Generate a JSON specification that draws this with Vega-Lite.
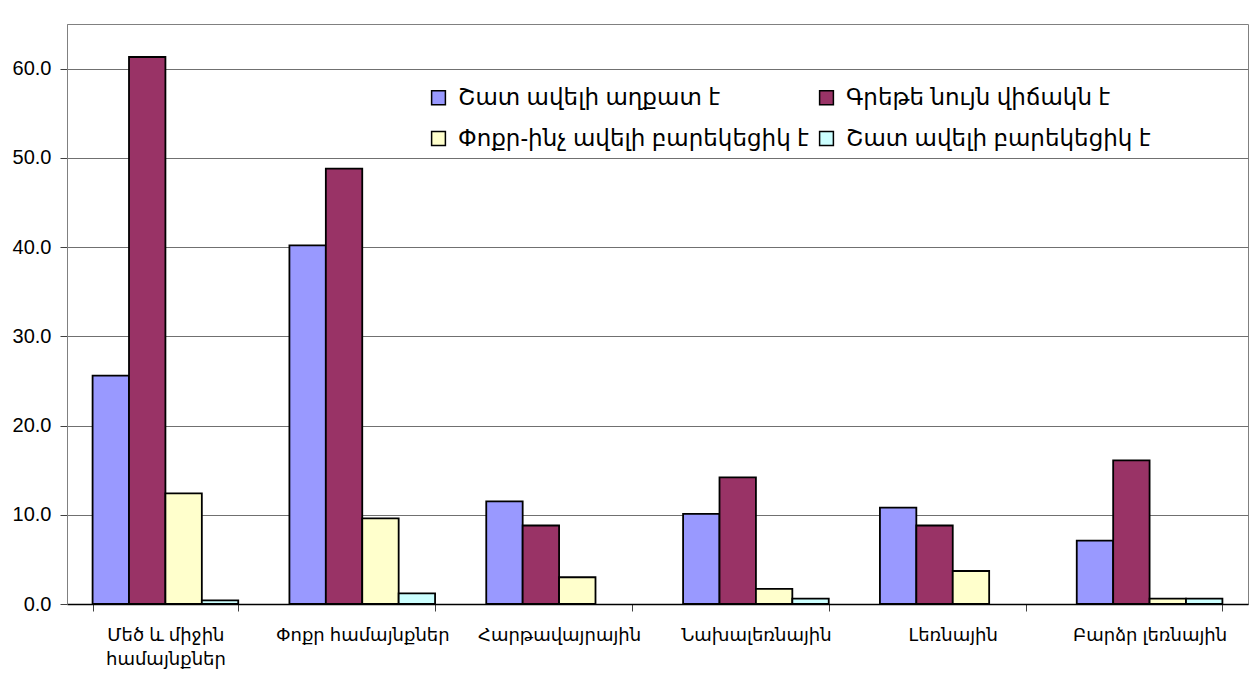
{
  "$schema": "https://vega.github.io/schema/vega-lite/v6.json",
  "width": 1181,
  "height": 580,
  "padding": {"left": 12, "top": 24, "right": 2, "bottom": 4},
  "background": "white",
  "config": {
    "font": "Liberation Sans, DejaVu Sans, sans-serif",
    "view": {"stroke": "#808080", "strokeWidth": 1}
  },
  "data": {
    "values": [
      {"cat": "Մեծ և միջին|համայնքներ", "s": "Շատ ավելի աղքատ է", "v": 25.6},
      {"cat": "Մեծ և միջին|համայնքներ", "s": "Գրեթե նույն վիճակն է", "v": 61.3},
      {"cat": "Մեծ և միջին|համայնքներ", "s": "Փոքր-ինչ ավելի բարեկեցիկ է", "v": 12.4},
      {"cat": "Մեծ և միջին|համայնքներ", "s": "Շատ ավելի բարեկեցիկ է", "v": 0.4},
      {"cat": "Փոքր համայնքներ", "s": "Շատ ավելի աղքատ է", "v": 40.2},
      {"cat": "Փոքր համայնքներ", "s": "Գրեթե նույն վիճակն է", "v": 48.8},
      {"cat": "Փոքր համայնքներ", "s": "Փոքր-ինչ ավելի բարեկեցիկ է", "v": 9.6},
      {"cat": "Փոքր համայնքներ", "s": "Շատ ավելի բարեկեցիկ է", "v": 1.2},
      {"cat": "Հարթավայրային", "s": "Շատ ավելի աղքատ է", "v": 11.5},
      {"cat": "Հարթավայրային", "s": "Գրեթե նույն վիճակն է", "v": 8.8},
      {"cat": "Հարթավայրային", "s": "Փոքր-ինչ ավելի բարեկեցիկ է", "v": 3.0},
      {"cat": "Նախալեռնային", "s": "Շատ ավելի աղքատ է", "v": 10.1},
      {"cat": "Նախալեռնային", "s": "Գրեթե նույն վիճակն է", "v": 14.2},
      {"cat": "Նախալեռնային", "s": "Փոքր-ինչ ավելի բարեկեցիկ է", "v": 1.7},
      {"cat": "Նախալեռնային", "s": "Շատ ավելի բարեկեցիկ է", "v": 0.6},
      {"cat": "Լեռնային", "s": "Շատ ավելի աղքատ է", "v": 10.8},
      {"cat": "Լեռնային", "s": "Գրեթե նույն վիճակն է", "v": 8.8},
      {"cat": "Լեռնային", "s": "Փոքր-ինչ ավելի բարեկեցիկ է", "v": 3.7},
      {"cat": "Բարձր լեռնային", "s": "Շատ ավելի աղքատ է", "v": 7.1},
      {"cat": "Բարձր լեռնային", "s": "Գրեթե նույն վիճակն է", "v": 16.1},
      {"cat": "Բարձր լեռնային", "s": "Փոքր-ինչ ավելի բարեկեցիկ է", "v": 0.6},
      {"cat": "Բարձր լեռնային", "s": "Շատ ավելի բարեկեցիկ է", "v": 0.6}
    ]
  },
  "mark": {"type": "bar", "stroke": "black", "strokeWidth": 1.8},
  "encoding": {
    "x": {
      "field": "cat",
      "type": "nominal",
      "sort": null,
      "scale": {"paddingInner": 0.26, "paddingOuter": 0.13},
      "axis": {
        "title": null,
        "labelAngle": 0,
        "labelExpr": "split(datum.label, '|')",
        "labelFontSize": 18,
        "labelLineHeight": 24,
        "labelLimit": 300,
        "labelColor": "black",
        "labelPadding": 15,
        "labelBaseline": "top",
        "tickBand": "extent",
        "tickSize": 7,
        "tickColor": "#404040",
        "domainColor": "black",
        "domainWidth": 1.5,
        "grid": false
      }
    },
    "xOffset": {
      "field": "s",
      "type": "nominal",
      "sort": ["Շատ ավելի աղքատ է", "Գրեթե նույն վիճակն է", "Փոքր-ինչ ավելի բարեկեցիկ է", "Շատ ավելի բարեկեցիկ է"],
      "scale": {"paddingInner": 0, "paddingOuter": 0}
    },
    "y": {
      "field": "v",
      "type": "quantitative",
      "scale": {"domain": [0, 65], "nice": false},
      "axis": {
        "title": null,
        "values": [0, 10, 20, 30, 40, 50, 60],
        "format": ".1f",
        "labelFontSize": 20,
        "labelColor": "black",
        "labelPadding": 9,
        "tickSize": 7,
        "tickColor": "#404040",
        "domainColor": "#808080",
        "gridColor": "#707070",
        "gridWidth": 1
      }
    },
    "color": {
      "field": "s",
      "type": "nominal",
      "scale": {
        "domain": ["Շատ ավելի աղքատ է", "Գրեթե նույն վիճակն է", "Փոքր-ինչ ավելի բարեկեցիկ է", "Շատ ավելի բարեկեցիկ է"],
        "range": ["#9999FF", "#993366", "#FFFFCC", "#CCFFFF"]
      },
      "legend": {
        "title": null,
        "orient": "none",
        "direction": "horizontal",
        "legendX": 360,
        "legendY": 62,
        "columns": 2,
        "columnPadding": 6,
        "rowPadding": 17,
        "symbolType": "square",
        "symbolSize": 190,
        "symbolStrokeColor": "black",
        "symbolStrokeWidth": 1.5,
        "labelFontSize": 23,
        "labelColor": "black",
        "labelOffset": 8,
        "labelLimit": 450
      }
    }
  }
}
